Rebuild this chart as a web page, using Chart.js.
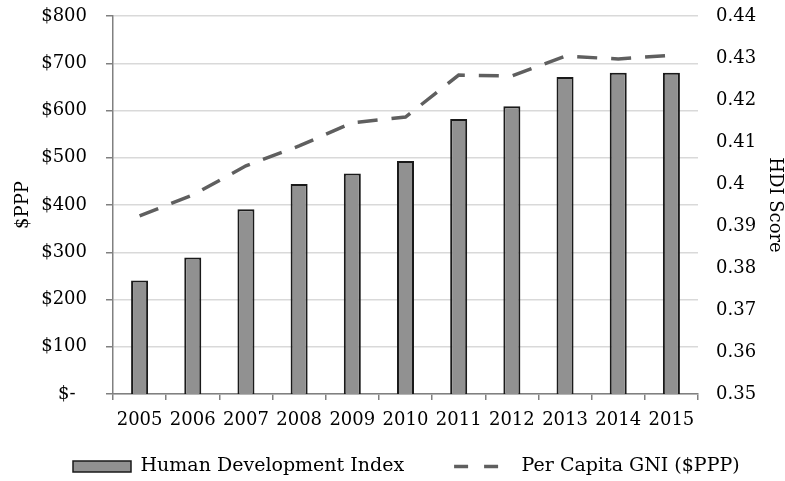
<!DOCTYPE html>
<html>
<head>
<meta charset="utf-8">
<title>HDI and Per Capita GNI, 2005-2015</title>
<script src="https://cdn.jsdelivr.net/npm/chart.js@4/dist/chart.umd.min.js"></script>
<style>
  body { margin: 0; background: #fff; }
  canvas { display: block; }
</style>
</head>
<body>
<canvas id="hdiChart" width="785" height="481"></canvas>
<script>
const years = ['2005', '2006', '2007', '2008', '2009', '2010', '2011', '2012', '2013', '2014', '2015'];
const hdiScores = [0.377, 0.3825, 0.394, 0.4, 0.4025, 0.4055, 0.4155, 0.4185, 0.4255, 0.4265, 0.4265];
const gniPerCapita = [377, 421, 483, 525, 574, 586, 675, 673, 715, 709, 717];
const gniTickLabels = ['$-  ', '$100', '$200', '$300', '$400', '$500', '$600', '$700', '$800'];
const hdiTickLabels = ['0.35', '0.36', '0.37', '0.38', '0.39', '0.4', '0.41', '0.42', '0.43', '0.44'];

document.addEventListener('DOMContentLoaded', () => {drawChart();});

// legend padding is also the gap between the two items, so the legend box is
// moved by hand: top raised to keep the row inside it, nudged right to line up
const legendNudge = 
{
    id: 'legendNudge',
    afterLayout(chart) 
    {
      chart.legend.top -= 34;
      chart.legend.left += 10;
      chart.legend.right += 10;
    }
};

// tick padding would otherwise be added above and below the plot area
function fixAxis(width) 
{
    return scale => 
    {
      scale.width = width;
      scale.paddingTop = 0;
      scale.paddingBottom = 0;
    };
}

function drawChart() 
{
    const serif = { family: '"DejaVu Serif", serif', size: 18 };
    const legendFont = { family: '"DejaVu Serif", serif', size: 19 };
    const barGrey = '#919191';
    const lineGrey = '#5f5f5f';
    const axisGrey = '#808080';

    Chart.defaults.font.family = serif.family;
    Chart.defaults.font.size = serif.size;
    Chart.defaults.color = '#000';

    new Chart(document.getElementById('hdiChart').getContext('2d'), 
    {
      data: 
      {
        labels: years,
        datasets: 
        [
          {
            type: 'bar',
            label: 'Human Development Index',
            data: hdiScores,
            yAxisID: 'y1',
            backgroundColor: barGrey,
            borderColor: '#1a1a1a',
            borderWidth: 2,
            categoryPercentage: 1,
            barPercentage: 0.32
          },
          {
            type: 'line',
            label: 'Per Capita GNI ($PPP)',
            data: gniPerCapita,
            yAxisID: 'y',
            borderColor: lineGrey,
            borderWidth: 3.5,
            borderDash: [20, 14],
            pointRadius: 0,
            tension: 0,
            fill: false
          }
        ]
      },
      plugins: [legendNudge],
      options: 
      {
        responsive: false,
        animation: false,
        layout: { padding: { left: 13, right: 0, top: 16, bottom: 0 } },
        plugins: 
        {
          tooltip: { enabled: false },
          legend: 
          {
            position: 'bottom',
            align: 'start',
            maxHeight: 40,
            labels: 
            {
              padding: 50,
              usePointStyle: true,
              pointStyleWidth: 58,
              boxHeight: 11,
              font: legendFont,
              generateLabels: () => 
              [
                { text: 'Human Development Index', fillStyle: barGrey, strokeStyle: '#1a1a1a', lineWidth: 1.5, pointStyle: 'rect', datasetIndex: 0 },
                { text: 'Per Capita GNI ($PPP)', fillStyle: 'rgba(0,0,0,0)', strokeStyle: lineGrey, lineWidth: 3.5, lineDash: [14, 16], pointStyle: 'line', datasetIndex: 1 }
              ]
            }
          }
        },
        scales: 
        {
          x: 
          {
            offset: true,
            grid: { display: true, drawOnChartArea: false, offset: true, tickLength: 6, tickColor: axisGrey, lineWidth: 1.5 },
            border: { color: axisGrey, width: 1.5 },
            ticks: { padding: 10, maxRotation: 0, autoSkip: false, font: serif },
            afterFit: scale => { scale.height = 47; }
          },
          y: 
          {
            position: 'left',
            min: 0,
            max: 800,
            ticks: 
            {
              stepSize: 100,
              padding: 19,
              font: serif,
              callback: (value, index) => gniTickLabels[index]
            },
            grid: { color: '#d9d9d9', lineWidth: 1.5, tickLength: 7, tickColor: axisGrey },
            border: { color: axisGrey, width: 1.5 },
            title: { display: true, text: '$PPP', font: serif, padding: 0 },
            afterFit: fixAxis(100)
          },
          y1: 
          {
            position: 'right',
            min: 0.35,
            max: 0.44,
            ticks: 
            {
              stepSize: 0.01,
              padding: 18,
              font: serif,
              callback: value => hdiTickLabels[Math.round((value - 0.35) * 100)]
            },
            grid: { display: false, drawTicks: false },
            border: { display: false },
            title: { display: true, text: 'HDI Score', font: serif, padding: 0 },
            afterFit: fixAxis(87)
          }
        }
      }
    });
}
</script>
</body>
</html>
